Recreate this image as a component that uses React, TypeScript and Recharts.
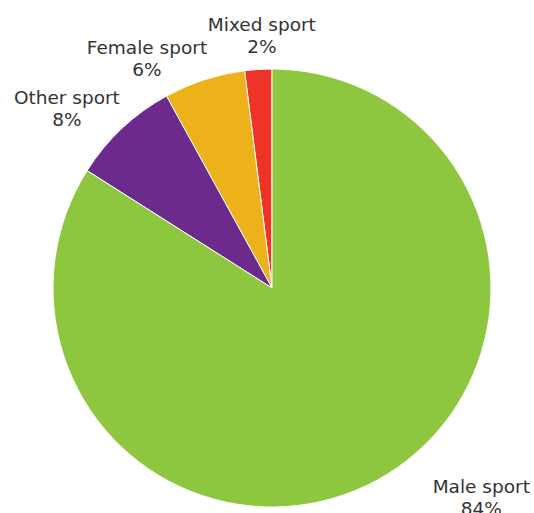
import { Cell, Pie, PieChart } from "recharts";

const categories = ["Mixed sport", "Female sport", "Other sport", "Male sport"];
const shares = [2, 6, 8, 84];
const colors = ["#EE3427", "#EDB219", "#6B2A8C", "#8DC63F"];

const data = categories.map((name, i) => ({ name, value: shares[i] }));

const RAD = Math.PI / 180;

// label nudges (angle shift in degrees, radius beyond the pie)
const labelTweak: Record<string, { da: number; dr: number }> = {
  "Mixed sport": { da: -1.3, dr: 34 },
  "Female sport": { da: 10.5, dr: 43 },
  "Other sport": { da: 5.5, dr: 54 },
  "Male sport": { da: 16.2, dr: 77 },
};

function renderLabel(props: any) {
  const { cx, cy, midAngle, outerRadius, name, value } = props;
  const t = labelTweak[name] ?? { da: 0, dr: 30 };
  const a = (midAngle + t.da) * RAD;
  const r = outerRadius + t.dr;
  const x = cx + r * Math.cos(a);
  const y = cy - r * Math.sin(a);
  return (
    <text
      x={x}
      y={y}
      textAnchor="middle"
      fill="#333"
      fontSize={18.5}
      fontFamily="'DejaVu Sans', sans-serif"
    >
      <tspan x={x} dy={-4}>
        {name}
      </tspan>
      <tspan x={x} dy={22}>
        {value}%
      </tspan>
    </text>
  );
}

export default function App() {
  return (
    <div style={{ position: "absolute", left: 0, top: 0, background: "#fff" }}>
      <PieChart width={534} height={513}>
        <Pie
          data={data}
          dataKey="value"
          nameKey="name"
          cx={267}
          cy={283}
          outerRadius={219}
          startAngle={90}
          endAngle={450}
          stroke="#fff"
          strokeWidth={1}
          label={renderLabel}
          labelLine={false}
          isAnimationActive={false}
        >
          {data.map((d, i) => (
            <Cell key={d.name} fill={colors[i]} />
          ))}
        </Pie>
      </PieChart>
    </div>
  );
}
